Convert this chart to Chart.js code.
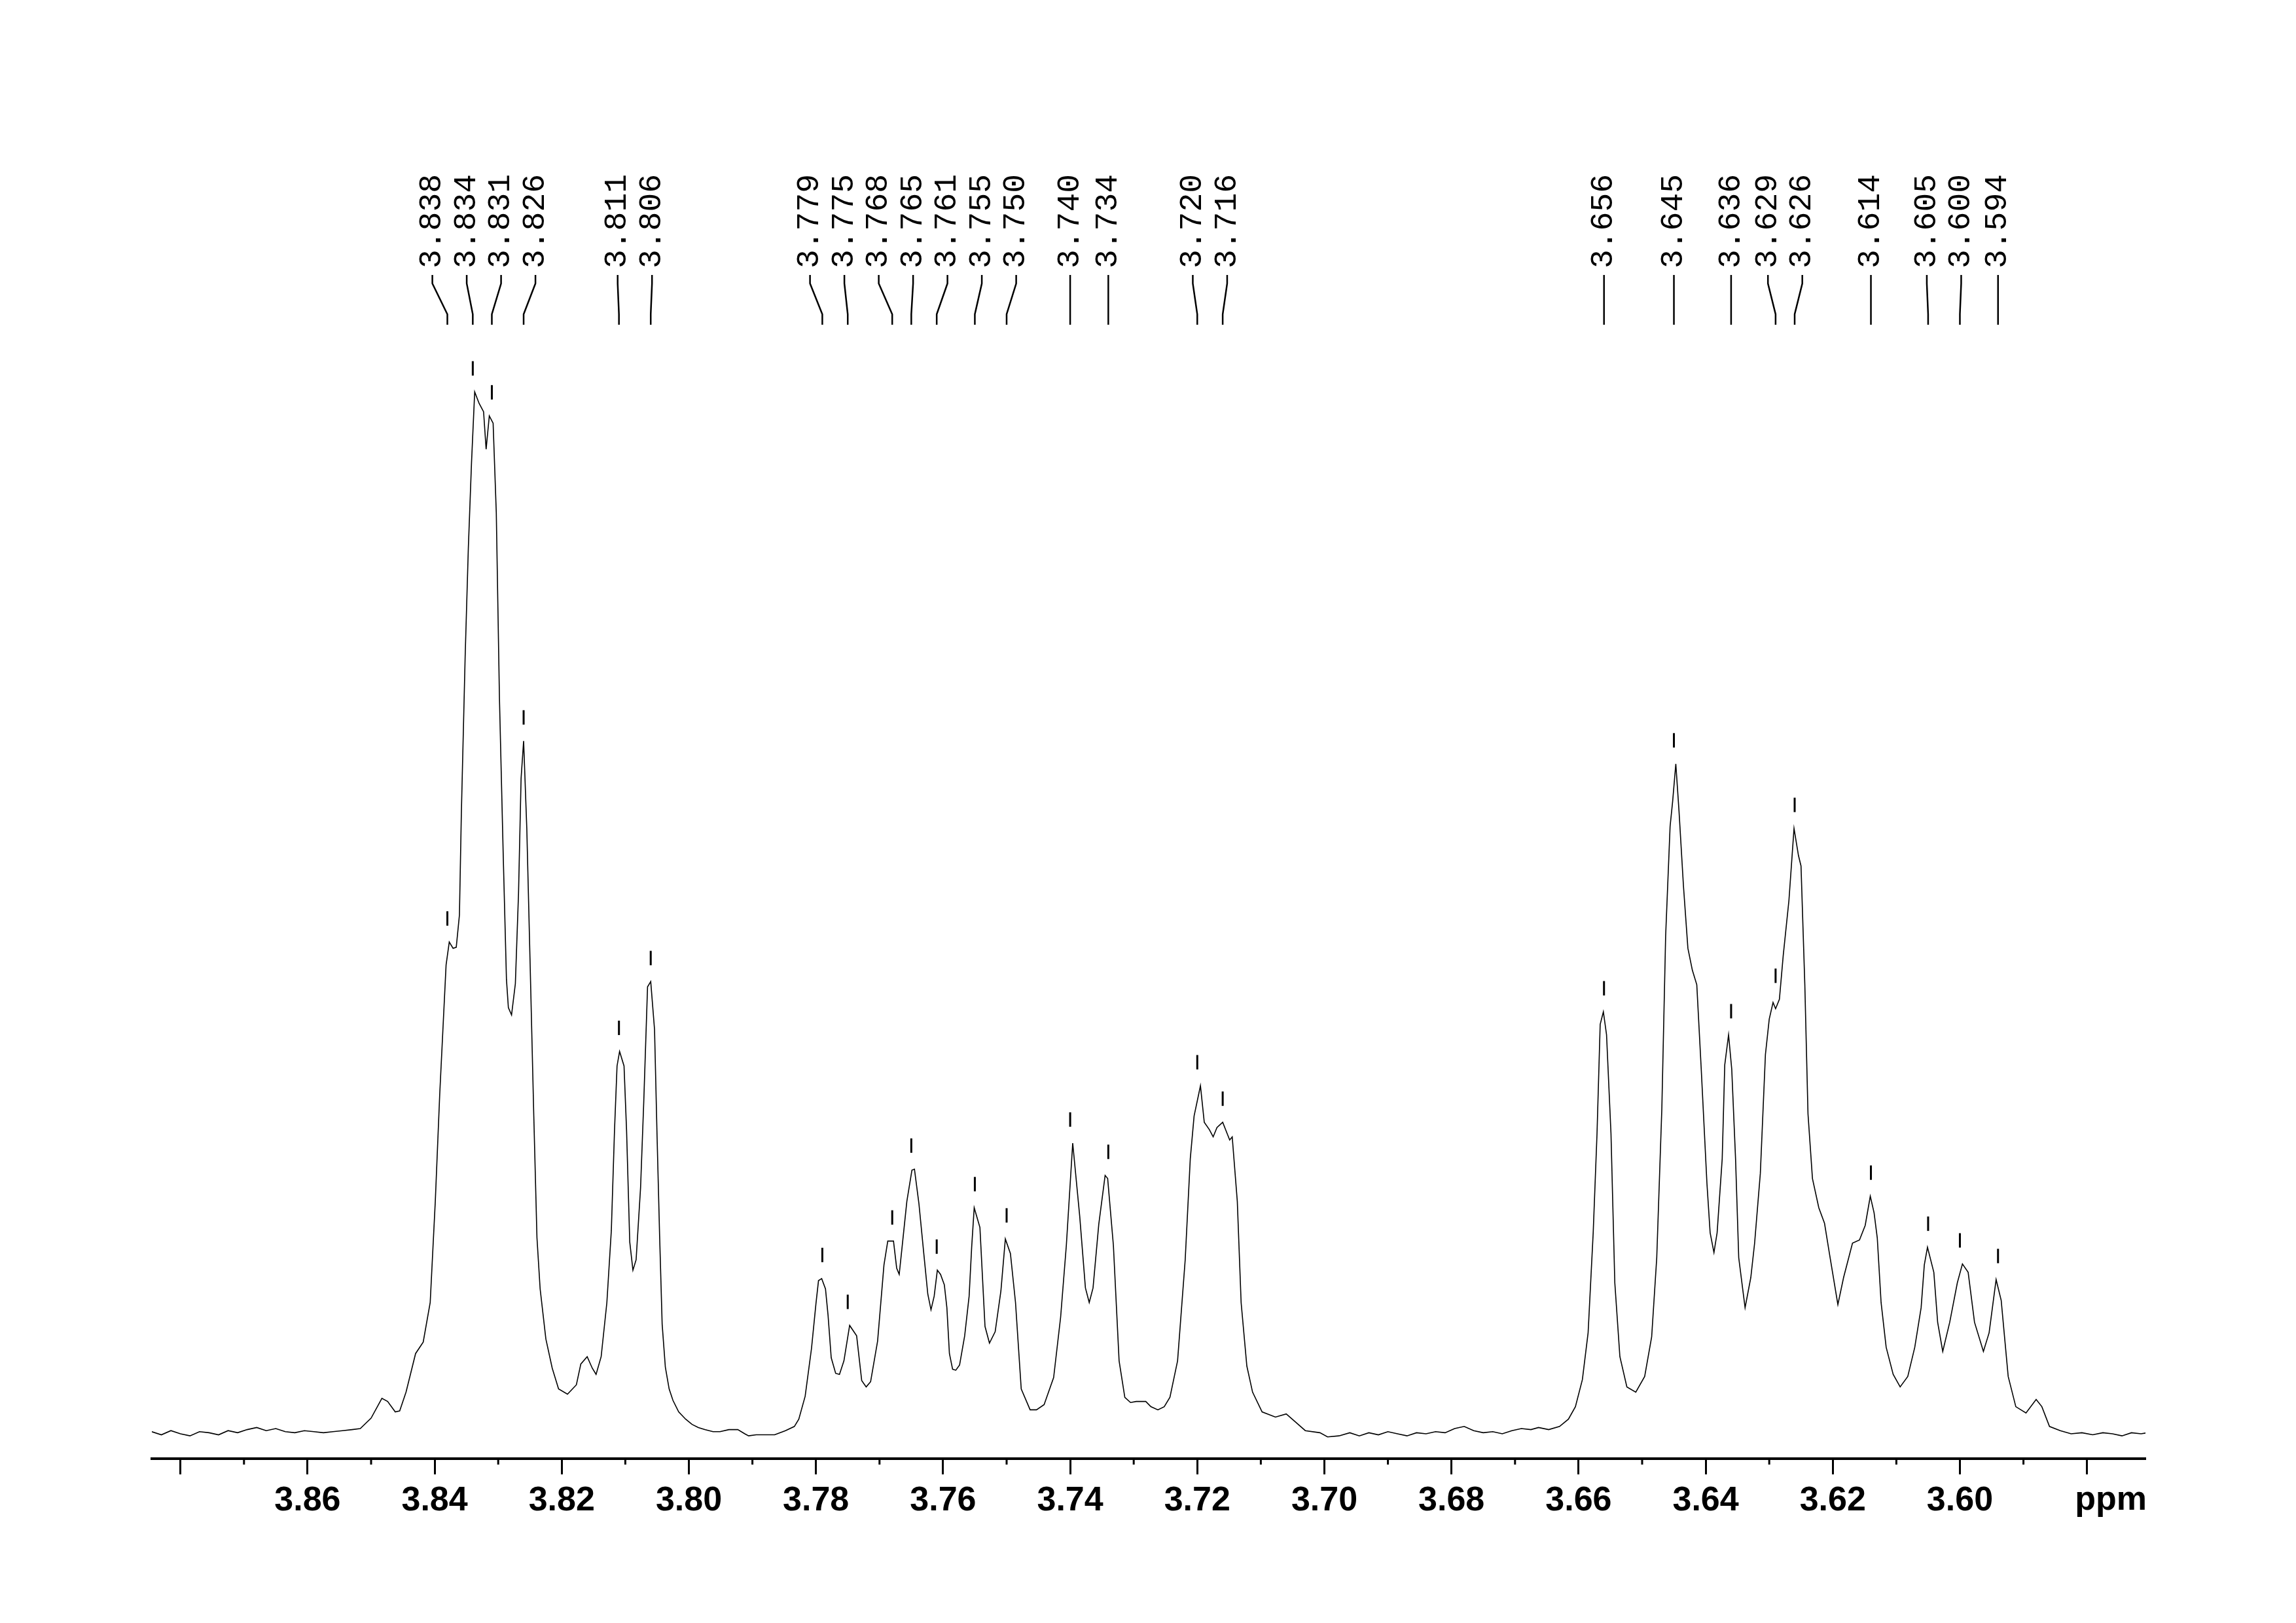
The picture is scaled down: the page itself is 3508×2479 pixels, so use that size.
<!DOCTYPE html>
<html>
<head>
<meta charset="utf-8">
<title>1H NMR 3.57 - 3.89 ppm</title>
<script src="https://cdn.jsdelivr.net/npm/chart.js@4.4.1/dist/chart.umd.min.js"></script>
<style>
  html, body { margin: 0; padding: 0; background: #fff; }
  #box { width: 3508px; height: 2479px; }
</style>
</head>
<body>
<div id="box"><canvas id="nmr" width="3508" height="2479"></canvas></div>
<script>
// spectrum: chemical shift (ppm) and intensity (tallest line = 100)
const shift = [
  3.8845, 3.8830, 3.8815, 3.8800, 3.8785, 3.8770, 3.8755, 3.8740, 3.8725, 3.8710,
  3.8695, 3.8680, 3.8665, 3.8650, 3.8635, 3.8620, 3.8605, 3.8590, 3.8575, 3.8560,
  3.8545, 3.8530, 3.8517, 3.8500, 3.8483, 3.8474, 3.8462, 3.8455, 3.8445, 3.8430,
  3.8418, 3.8407, 3.8399, 3.8392, 3.8387, 3.8382, 3.8377, 3.8371, 3.8366, 3.8361,
  3.8358, 3.8352, 3.8347, 3.8342, 3.8337, 3.8330, 3.8323, 3.8319, 3.8314, 3.8308,
  3.8303, 3.8298, 3.8292, 3.8287, 3.8284, 3.8279, 3.8273, 3.8268, 3.8264, 3.8260,
  3.8255, 3.8250, 3.8244, 3.8239, 3.8234, 3.8225, 3.8215, 3.8205, 3.8191, 3.8177,
  3.8170, 3.8160, 3.8152, 3.8146, 3.8138, 3.8129, 3.8122, 3.8117, 3.8113, 3.8109,
  3.8102, 3.8098, 3.8093, 3.8088, 3.8083, 3.8076, 3.8071, 3.8065, 3.8060, 3.8054,
  3.8050, 3.8046, 3.8042, 3.8037, 3.8031, 3.8025, 3.8016, 3.8005, 3.7995, 3.7985,
  3.7975, 3.7962, 3.7951, 3.7937, 3.7923, 3.7912, 3.7906, 3.7894, 3.7882, 3.7865,
  3.7848, 3.7834, 3.7827, 3.7817, 3.7807, 3.7800, 3.7796, 3.7791, 3.7785, 3.7781,
  3.7776, 3.7769, 3.7763, 3.7756, 3.7747, 3.7736, 3.7728, 3.7721, 3.7714, 3.7703,
  3.7693, 3.7687, 3.7678, 3.7673, 3.7669, 3.7664, 3.7657, 3.7649, 3.7645, 3.7638,
  3.7630, 3.7624, 3.7619, 3.7614, 3.7609, 3.7604, 3.7598, 3.7594, 3.7590, 3.7585,
  3.7580, 3.7574, 3.7566, 3.7559, 3.7555, 3.7551, 3.7542, 3.7534, 3.7527, 3.7518,
  3.7509, 3.7502, 3.7494, 3.7486, 3.7477, 3.7463, 3.7453, 3.7441, 3.7426, 3.7415,
  3.7406, 3.7396, 3.7385, 3.7376, 3.7370, 3.7364, 3.7355, 3.7345, 3.7341, 3.7332,
  3.7323, 3.7314, 3.7305, 3.7296, 3.7281, 3.7273, 3.7262, 3.7252, 3.7243, 3.7231,
  3.7219, 3.7211, 3.7205, 3.7195, 3.7189, 3.7181, 3.7175, 3.7169, 3.7160, 3.7149,
  3.7145, 3.7137, 3.7131, 3.7122, 3.7113, 3.7098, 3.7077, 3.7060, 3.7045, 3.7030,
  3.7007, 3.6995, 3.6977, 3.6960, 3.6945, 3.6930, 3.6915, 3.6900, 3.6885, 3.6870,
  3.6855, 3.6840, 3.6825, 3.6810, 3.6795, 3.6780, 3.6765, 3.6750, 3.6735, 3.6720,
  3.6705, 3.6690, 3.6675, 3.6663, 3.6647, 3.6630, 3.6616, 3.6605, 3.6594, 3.6585,
  3.6577, 3.6571, 3.6566, 3.6561, 3.6556, 3.6549, 3.6543, 3.6535, 3.6524, 3.6510,
  3.6496, 3.6485, 3.6477, 3.6469, 3.6463, 3.6456, 3.6452, 3.6447, 3.6442, 3.6435,
  3.6428, 3.6421, 3.6414, 3.6407, 3.6398, 3.6393, 3.6387, 3.6382, 3.6374, 3.6370,
  3.6364, 3.6359, 3.6353, 3.6348, 3.6342, 3.6338, 3.6329, 3.6323, 3.6314, 3.6306,
  3.6300, 3.6294, 3.6290, 3.6284, 3.6278, 3.6269, 3.6261, 3.6254, 3.6250, 3.6244,
  3.6239, 3.6232, 3.6222, 3.6213, 3.6205, 3.6192, 3.6183, 3.6169, 3.6158, 3.6149,
  3.6141, 3.6135, 3.6130, 3.6124, 3.6116, 3.6105, 3.6094, 3.6082, 3.6071, 3.6061,
  3.6056, 3.6051, 3.6041, 3.6035, 3.6027, 3.6016, 3.6004, 3.5996, 3.5987, 3.5977,
  3.5963, 3.5954, 3.5943, 3.5935, 3.5929, 3.5924, 3.5912, 3.5896, 3.5880, 3.5871,
  3.5859, 3.5842, 3.5825, 3.5808, 3.5791, 3.5775, 3.5760, 3.5745, 3.5730, 3.5715,
  3.5705
];
const intensity = [
  0.2, -0.1, 0.3, 0.0, -0.2, 0.2, 0.1, -0.1, 0.3, 0.1,
  0.4, 0.6, 0.3, 0.5, 0.2, 0.1, 0.3, 0.2, 0.1, 0.2,
  0.3, 0.4, 0.5, 1.5, 3.4, 3.1, 2.1, 2.2, 4.0, 7.7,
  8.8, 12.6, 22.3, 32.6, 38.8, 45.0, 47.2, 46.6, 46.7, 49.8,
  59.5, 74.6, 85.0, 93.2, 100, 98.9, 98.1, 94.5, 97.7, 97.0,
  88.4, 70.5, 55.3, 43.6, 40.9, 40.2, 43.2, 51.9, 62.9, 66.5,
  58.1, 45.7, 30.5, 18.8, 13.9, 9.1, 6.3, 4.3, 3.8, 4.7,
  6.7, 7.4, 6.3, 5.7, 7.4, 12.6, 19.5, 29.1, 35.3, 36.7,
  35.3, 29.1, 18.4, 15.7, 16.7, 23.6, 31.8, 42.9, 43.4, 38.8,
  28.5, 19.0, 10.5, 6.4, 4.3, 3.2, 2.1, 1.4, 0.9, 0.6,
  0.4, 0.2, 0.2, 0.4, 0.4, 0.0, -0.2, -0.1, -0.1, -0.1,
  0.3, 0.7, 1.4, 3.6, 8.2, 12.5, 14.7, 14.9, 13.9, 11.4,
  7.3, 5.8, 5.7, 7.0, 10.4, 9.4, 5.1, 4.5, 5.0, 8.9,
  16.2, 18.5, 18.5, 15.9, 15.3, 18.2, 22.3, 25.3, 25.4, 22.1,
  17.1, 13.4, 11.9, 13.2, 15.7, 15.3, 14.3, 12.1, 7.7, 6.2,
  6.1, 6.6, 9.4, 13.2, 17.9, 21.7, 19.8, 10.3, 8.7, 9.8,
  13.7, 18.7, 17.3, 12.6, 4.3, 2.3, 2.3, 2.8, 5.4, 11.2,
  18.1, 27.9, 20.9, 14.0, 12.6, 14.0, 20.1, 24.8, 24.5, 18.1,
  7.0, 3.5, 3.0, 3.1, 3.1, 2.6, 2.3, 2.6, 3.5, 7.0,
  16.7, 26.4, 30.5, 33.4, 29.9, 29.2, 28.5, 29.4, 29.9, 28.2,
  28.5, 22.3, 12.6, 6.5, 4.0, 2.1, 1.6, 1.9, 1.1, 0.3,
  0.1, -0.3, -0.2, 0.1, -0.2, 0.1, -0.1, 0.2, 0.0, -0.2,
  0.1, 0.0, 0.2, 0.1, 0.5, 0.7, 0.3, 0.1, 0.2, 0.0,
  0.3, 0.5, 0.4, 0.6, 0.4, 0.7, 1.4, 2.6, 5.2, 9.7,
  19.3, 28.8, 39.3, 40.5, 38.3, 28.8, 14.5, 7.4, 4.5, 4.0,
  5.5, 9.3, 16.9, 31.2, 47.8, 58.3, 60.7, 64.3, 59.8, 52.6,
  46.6, 44.5, 43.1, 35.0, 24.0, 19.3, 17.4, 19.3, 26.4, 35.4,
  38.3, 35.0, 26.4, 16.9, 14.0, 12.1, 15.0, 18.3, 25.0, 36.4,
  39.8, 41.4, 40.8, 41.7, 45.9, 51.2, 58.1, 55.5, 54.5, 43.1,
  30.7, 24.5, 21.7, 20.2, 17.2, 12.4, 15.0, 18.3, 18.6, 20.0,
  22.8, 21.2, 18.8, 12.6, 8.3, 5.7, 4.5, 5.5, 8.3, 12.1,
  16.2, 17.9, 15.5, 10.7, 7.9, 10.7, 14.5, 16.3, 15.5, 10.7,
  7.9, 9.7, 14.8, 12.8, 8.8, 5.5, 2.6, 2.0, 3.3, 2.6,
  0.7, 0.3, 0.0, 0.1, -0.1, 0.1, 0.0, -0.2, 0.1, 0.0,
  0.1
];

// picked peaks (ppm)
const peakShifts = [
  3.838, 3.834, 3.831, 3.826, 3.811, 3.806,
  3.779, 3.775, 3.768, 3.765, 3.761, 3.755, 3.750,
  3.740, 3.734, 3.720, 3.716,
  3.656, 3.645, 3.636, 3.629, 3.626, 3.614, 3.605, 3.600, 3.594
];

// axis
const majorTicks = [3.88, 3.86, 3.84, 3.82, 3.80, 3.78, 3.76, 3.74, 3.72, 3.70, 3.68, 3.66, 3.64, 3.62, 3.60, 3.58];
const tickLabels = ['', '3.86', '3.84', '3.82', '3.80', '3.78', '3.76', '3.74', '3.72', '3.70', '3.68', '3.66', '3.64', '3.62', '3.60', ''];
const minorTicks = [3.87, 3.85, 3.83, 3.81, 3.79, 3.77, 3.75, 3.73, 3.71, 3.69, 3.67, 3.65, 3.63, 3.61, 3.59];
const axisUnit = 'ppm';

// highest point of the trace close to a picked shift
function localMax(ppm) {
  let best = -Infinity;
  for (let i = 0; i < shift.length; i++) {
    if (Math.abs(shift[i] - ppm) <= 0.0008 && intensity[i] > best) best = intensity[i];
  }
  return best;
}

// spread the label columns so they keep a minimum gap, centred on their peaks
function spreadLabels(px, gap) {
  let groups = px.map((p) => ({ sum: p, n: 1 }));
  let merged = true;
  while (merged) {
    merged = false;
    for (let i = 0; i < groups.length - 1; i++) {
      const a = groups[i], b = groups[i + 1];
      const aEnd = a.sum / a.n + (a.n - 1) * gap / 2;
      const bStart = b.sum / b.n - (b.n - 1) * gap / 2;
      if (bStart - aEnd < gap) {
        groups.splice(i, 2, { sum: a.sum + b.sum, n: a.n + b.n });
        merged = true;
        break;
      }
    }
  }
  const out = [];
  groups.forEach((g) => {
    const c = g.sum / g.n;
    for (let k = 0; k < g.n; k++) out.push(c + (k - (g.n - 1) / 2) * gap);
  });
  return out;
}

const nmrDecor = {
  id: 'nmrDecor',
  afterDraw(chart) {
    const ctx = chart.ctx;
    const xs = chart.scales.x;
    const ys = chart.scales.y;
    const bottom = chart.chartArea.bottom;

    ctx.save();
    ctx.strokeStyle = '#000';
    ctx.fillStyle = '#000';

    // short ticks between the labelled ones
    ctx.lineWidth = 3;
    minorTicks.forEach((v) => {
      const x = xs.getPixelForValue(v);
      ctx.beginPath();
      ctx.moveTo(x, bottom);
      ctx.lineTo(x, bottom + 9);
      ctx.stroke();
    });

    // unit in place of the last tick label
    ctx.font = 'bold 52px "Liberation Sans", Arial, sans-serif';
    ctx.textAlign = 'right';
    ctx.textBaseline = 'middle';
    ctx.fillText(axisUnit, chart.chartArea.right + 2, 2292);

    // peak labels, leaders and markers
    const px = peakShifts.map((p) => xs.getPixelForValue(p));
    const lx = spreadLabels(px, 52.5);
    ctx.font = '48px "Liberation Mono", "DejaVu Sans Mono", monospace';
    ctx.textAlign = 'left';
    ctx.textBaseline = 'middle';
    peakShifts.forEach((p, i) => {
      ctx.save();
      ctx.translate(lx[i], 410);
      ctx.rotate(-Math.PI / 2);
      ctx.fillText(p.toFixed(3), 0, 0);
      ctx.restore();

      ctx.lineWidth = 2.5;
      ctx.beginPath();
      ctx.moveTo(lx[i], 420);
      ctx.lineTo(lx[i], 433);
      ctx.lineTo(px[i], 480);
      ctx.lineTo(px[i], 496);
      ctx.stroke();

      const top = ys.getPixelForValue(localMax(p));
      ctx.fillRect(px[i] - 1.5, top - 47, 3, 22);
    });
    ctx.restore();
  }
};

new Chart(document.getElementById('nmr'), {
  type: 'line',
  data: {
    datasets: [{
      data: shift.map((s, i) => ({ x: s, y: intensity[i] })),
      borderColor: '#000',
      borderWidth: 1.6,
      pointRadius: 0,
      tension: 0,
      fill: false
    }]
  },
  options: {
    responsive: false,
    animation: false,
    devicePixelRatio: 1,
    layout: { padding: { left: 232, right: 230, top: 500, bottom: 0 } },
    plugins: { legend: { display: false }, tooltip: { enabled: false } },
    scales: {
      x: {
        type: 'linear',
        reverse: true,
        min: 3.5708,
        max: 3.8845,
        afterBuildTicks: (s) => { s.ticks = majorTicks.map((v) => ({ value: v })); },
        afterFit: (s) => { s.height = 251; },
        border: { display: true, color: '#000', width: 4 },
        grid: { display: true, drawOnChartArea: false, drawTicks: true, tickLength: 24, tickWidth: 3, tickColor: '#000' },
        ticks: {
          autoSkip: false,
          maxRotation: 0,
          padding: 9,
          color: '#000',
          font: { family: '"Liberation Sans", Arial, sans-serif', size: 52, weight: 'bold' },
          callback: (v, i) => tickLabels[i]
        }
      },
      y: { display: false, min: -2.39, max: 106.2 }
    }
  },
  plugins: [nmrDecor]
});
</script>
</body>
</html>
